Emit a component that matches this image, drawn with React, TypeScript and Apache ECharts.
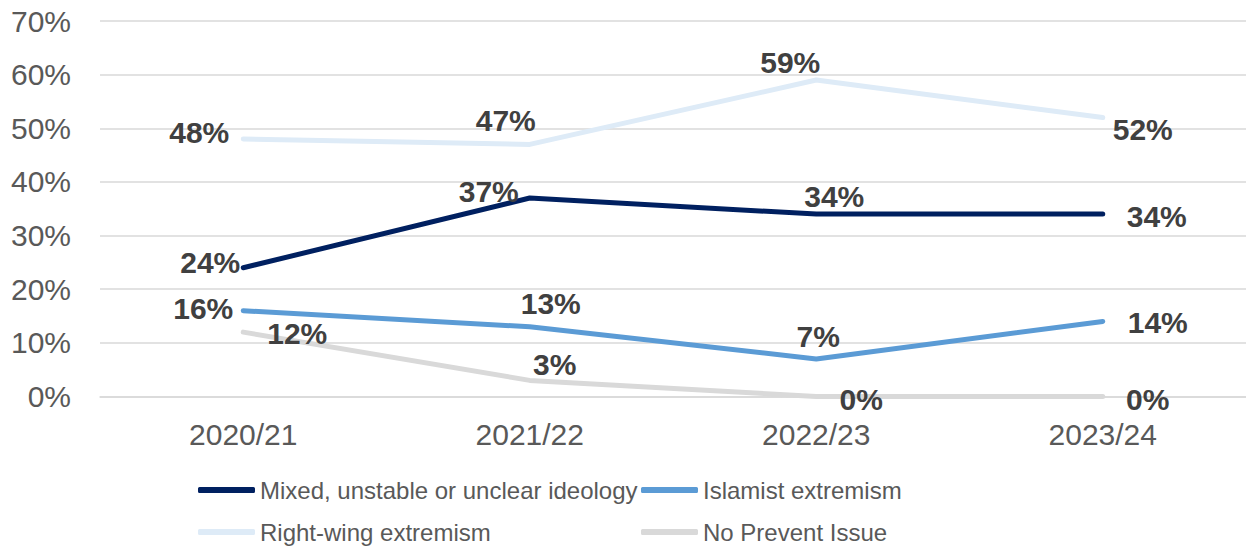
import React, { useEffect, useRef } from "react";
import * as echarts from "echarts";

const categories = ["2020/21", "2021/22", "2022/23", "2023/24"];
const seriesNames = [
  "Mixed, unstable or unclear ideology",
  "Islamist extremism",
  "Right-wing extremism",
  "No Prevent Issue",
];
const mixedValues = [24, 37, 34, 34];
const islamistValues = [16, 13, 7, 14];
const rightWingValues = [48, 47, 59, 52];
const noPreventValues = [12, 3, 0, 0];

// label offsets (styling only): [dx, dy] from the point to the label centre
const mixedOffsets = [[-33, -5], [-41, -7], [18, -18], [54, 2]];
const islamistOffsets = [[-40, -2], [21, -23], [2, -22], [55, 1]];
const rightWingOffsets = [[-44, -7], [-24, -24], [-26, -18], [40, 12]];
const noPreventOffsets = [[54, 1], [25, -16], [45, 3], [45, 3]];

const colors = ["#002060", "#5B9BD5", "#DEEBF7", "#D9D9D9"];
const FONT = "'Liberation Sans', Arial, sans-serif";

// legend slots: [left, top] for each series name (layout only)
const legendSlots = [
  [198, 475],
  [641, 475],
  [198, 517],
  [641, 517],
];

function makeSeries(name: string, values: number[], offsets: number[][], color: string) {
  return {
    name,
    type: "line",
    data: values.map((v, i) => ({
      value: v,
      label: { offset: offsets[i] },
    })),
    symbol: "circle",
    symbolSize: 1,
    itemStyle: { color },
    lineStyle: { color, width: 5, cap: "round", join: "round" },
    label: {
      show: true,
      position: "inside",
      formatter: "{c}%",
      fontFamily: FONT,
      fontSize: 30,
      fontWeight: "bold",
      color: "#404040",
    },
  };
}

export default function App() {
  const ref = useRef<HTMLDivElement>(null);
  useEffect(() => {
    if (!ref.current) return;
    const chart = echarts.init(ref.current, undefined, { renderer: "svg" });
    const legends = seriesNames.map((name, i) => ({
      left: legendSlots[i][0],
      top: legendSlots[i][1],
      padding: 0,
      data: [name],
      icon: "roundRect",
      itemWidth: 57,
      itemHeight: 6,
      selectedMode: false,
      textStyle: {
        fontFamily: FONT,
        fontSize: 24,
        lineHeight: 30,
        color: "#595959",
      },
    }));
    chart.setOption({
      animation: false,
      backgroundColor: "#ffffff",
      grid: { left: 100, right: -4, top: 21, bottom: 152.5, containLabel: false },
      legend: legends,
      xAxis: {
        type: "category",
        data: categories,
        boundaryGap: true,
        axisTick: { show: false },
        axisLine: { lineStyle: { color: "#D9D9D9", width: 1.5 } },
        axisLabel: { fontFamily: FONT, fontSize: 30, color: "#595959", margin: 23 },
      },
      yAxis: {
        type: "value",
        min: 0,
        max: 70,
        interval: 10,
        axisLine: { show: false },
        axisTick: { show: false },
        splitLine: { lineStyle: { color: "#D9D9D9", width: 1.5 } },
        axisLabel: {
          formatter: "{value}%",
          fontFamily: FONT,
          fontSize: 30,
          color: "#595959",
          margin: 29,
        },
      },
      series: [
        makeSeries(seriesNames[2], rightWingValues, rightWingOffsets, colors[2]),
        makeSeries(seriesNames[3], noPreventValues, noPreventOffsets, colors[3]),
        makeSeries(seriesNames[1], islamistValues, islamistOffsets, colors[1]),
        makeSeries(seriesNames[0], mixedValues, mixedOffsets, colors[0]),
      ],
    });
    return () => chart.dispose();
  }, []);
  return (
    <div
      ref={ref}
      style={{ position: "absolute", left: 0, top: 0, width: 1246, height: 549 }}
    />
  );
}
